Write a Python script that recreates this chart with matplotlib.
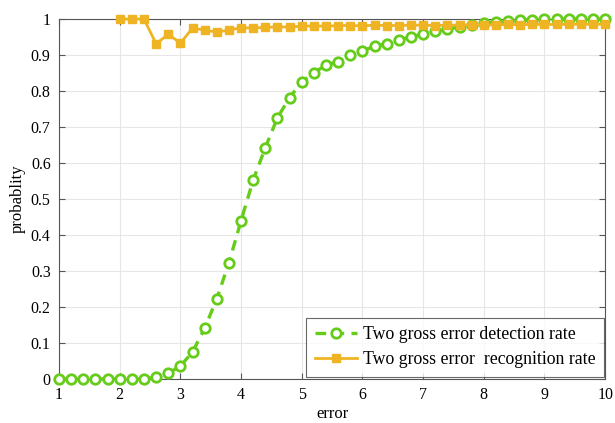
import numpy as np
import matplotlib
matplotlib.use("Agg")
import matplotlib.pyplot as plt

plt.rcParams['font.family'] = ['Liberation Serif', 'DejaVu Serif']

# error magnitude (step 0.2)
err_detect = np.round(np.arange(1.0, 10.0001, 0.2), 1)
detect_rate = [
    0, 0, 0, 0, 0, 0, 0, 0,            # 1.0 - 2.4
    0.005, 0.016, 0.036, 0.075, 0.141, 0.223, 0.323, 0.44,   # 2.6 - 4.0
    0.553, 0.643, 0.726, 0.782, 0.825, 0.851, 0.872, 0.882,  # 4.2 - 5.6
    0.900, 0.912, 0.924, 0.932, 0.942, 0.951, 0.958, 0.966,  # 5.8 - 7.2
    0.972, 0.978, 0.983, 0.988, 0.992, 0.995, 0.997, 0.998,  # 7.4 - 8.8
    0.999, 1.0, 1.0, 1.0, 1.0, 1.0,                          # 9.0 - 10.0
]

err_recog = np.round(np.arange(2.0, 10.0001, 0.2), 1)
recog_rate = [
    1.0, 1.0, 1.0, 0.931, 0.958, 0.933, 0.975, 0.969, 0.964, 0.969,   # 2.0 - 3.8
    0.976, 0.975, 0.977, 0.978, 0.978, 0.980, 0.981, 0.980, 0.982, 0.982,  # 4.0 - 5.8
    0.981, 0.983, 0.982, 0.982, 0.983, 0.983, 0.982, 0.983, 0.983, 0.984,  # 6.0 - 7.8
    0.984, 0.984, 0.985, 0.984, 0.985, 0.985, 0.985, 0.985, 0.986, 0.985,  # 8.0 - 9.8
    0.986,                                                             # 10.0
]

x_ticks = list(range(1, 11))
y_ticks = [0, 0.1, 0.2, 0.3, 0.4, 0.5, 0.6, 0.7, 0.8, 0.9, 1]
y_tick_labels = ['0', '0.1', '0.2', '0.3', '0.4', '0.5', '0.6', '0.7', '0.8', '0.9', '1']

green = '#66CC1A'
orange = '#EEB424'

fig = plt.figure(figsize=(6.15, 4.23), dpi=100)
ax = fig.add_axes([0.096, 0.104, 0.888, 0.851])

ax.plot(err_detect, detect_rate, color=green, lw=2.4, linestyle=(0, (3.2, 2.2)),
        marker='o', markersize=6.8, markerfacecolor='white', markeredgecolor=green,
        markeredgewidth=2.0, label='Two gross error detection rate', clip_on=False, zorder=3)
ax.plot(err_recog, recog_rate, color=orange, lw=2.0, linestyle='-',
        marker='s', markersize=5.8, markerfacecolor=orange, markeredgecolor=orange,
        label='Two gross error  recognition rate', clip_on=False, zorder=4)

ax.set_xlim(1, 10)
ax.set_ylim(0, 1)
ax.set_xticks(x_ticks)
ax.set_yticks(y_ticks)
ax.set_yticklabels(y_tick_labels)
ax.grid(True, color='#e6e6e6', lw=0.8)
ax.set_axisbelow(True)
ax.tick_params(direction='in', length=4, color='#555555', labelsize=11.5,
               top=True, right=True, pad=6)
for s in ax.spines.values():
    s.set_color('#555555')
    s.set_linewidth(0.8)

ax.set_xlabel('error', fontsize=12, labelpad=2)
ax.set_ylabel('probablity', fontsize=12, labelpad=4)

leg = ax.legend(loc='lower right', fontsize=12.8, frameon=True, fancybox=False,
                edgecolor='#444444', handlelength=2.4, handletextpad=0.3,
                borderpad=0.5, labelspacing=0.45)
leg.set_bbox_to_anchor((0.997, 0.087), transform=fig.transFigure)
leg.get_frame().set_linewidth(0.8)

fig.savefig('out.png', dpi=100)
